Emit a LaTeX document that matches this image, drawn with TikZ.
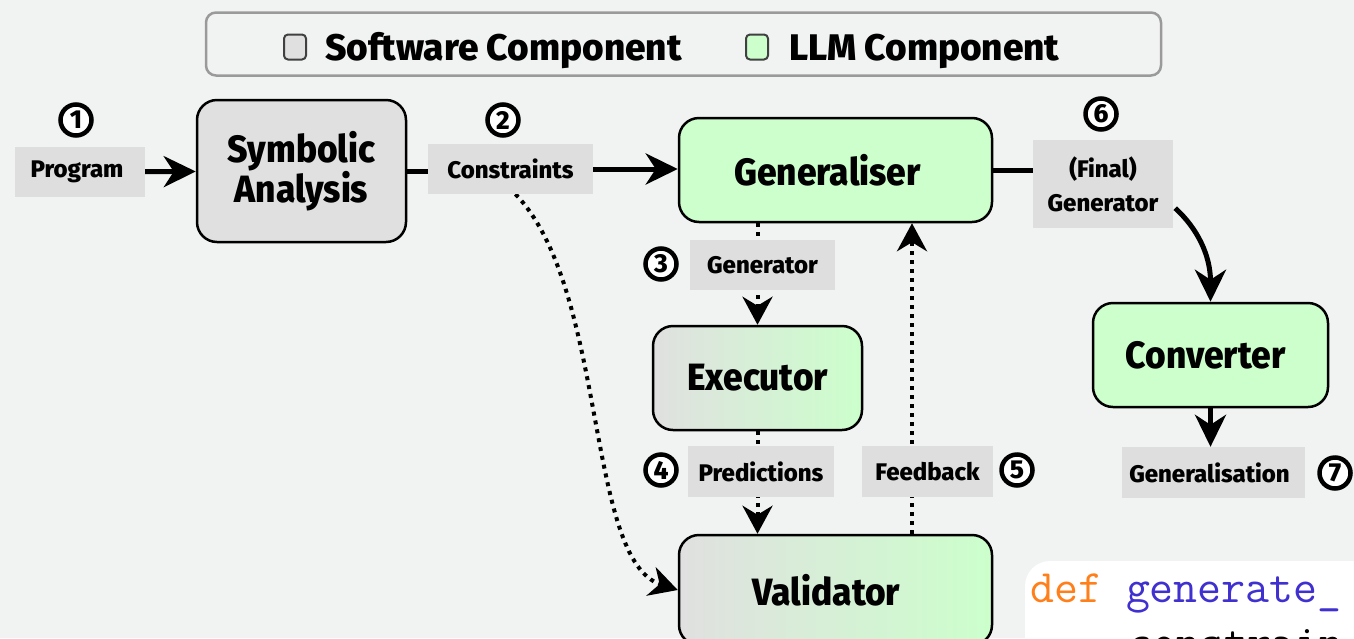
\documentclass[tikz,border=0pt]{standalone}
\usepackage{fontspec}
\setmainfont{Fira Sans}[BoldFont={Fira Sans ExtraBold}]
\newfontfamily\narrowfont{Fira Sans}[FakeStretch=0.93, BoldFont={Fira Sans ExtraBold}]
\usepackage{tikz}
\usetikzlibrary{arrows.meta, positioning, backgrounds, calc}

\definecolor{canvas}{HTML}{F1F3F2}
\definecolor{softgray}{HTML}{E0E0E0}
\definecolor{llmgreen}{HTML}{CCFFCC}
\definecolor{tagfill}{HTML}{DEDEDE}
\definecolor{legendline}{HTML}{9A9A9A}
\definecolor{kwdef}{HTML}{FF7F1A}
\definecolor{kwfun}{HTML}{3F30CF}

\begin{document}
\begin{tikzpicture}[
        x=1pt, y=-1pt,
        comp/.style={rectangle, rounded corners=20pt, draw=black, line width=2.5pt, align=center, inner sep=0pt, font=\narrowfont\fontsize{38}{40}\selectfont\bfseries},
        soft/.style={comp, fill=softgray},
        llm/.style={comp, fill=llmgreen},
        mixed/.style={comp, left color=softgray, right color=llmgreen},
        tag/.style={rectangle, fill=tagfill, align=center, inner sep=0pt, font=\fontsize{24}{34}\selectfont\bfseries},
        stepnum/.style={circle, draw=black, line width=4.5pt, fill=white, minimum size=31pt, inner sep=0pt, font=\fontsize{26}{26}\selectfont\bfseries},
        swatch/.style={rectangle, rounded corners=4pt, draw=black!75, line width=2pt, minimum width=22pt, minimum height=25pt},
        legendtext/.style={anchor=base west, inner sep=0pt, font=\fontsize{37}{40}\selectfont\bfseries},
        codeline/.style={anchor=base west, inner sep=0pt, font=\ttfamily\fontsize{46.5}{50}\selectfont},
        arrow/.style={-{Stealth[length=32pt, width=31pt, inset=10pt]}, line width=5pt},
        dotarrow/.style={-{Stealth[length=28pt, width=30pt, inset=9pt]}, line width=4pt, dash pattern=on 4pt off 5pt}
    ]
    \useasboundingbox (0,0) rectangle (1354,638);

    % Legend
    \node[draw=legendline, line width=2.5pt, rounded corners=10pt, fill=canvas, minimum width=955pt, minimum height=63pt] (legend) at (683.5,44) {};
    \node[swatch, fill=softgray] (swsoft) at (295,47) {};
    \node[legendtext] (txsoft) at (325,60) {Software Component};
    \node[swatch, fill=llmgreen] (swllm) at (757,47) {};
    \node[legendtext] (txllm) at (789,60) {LLM Component};

    % Components
    \node[soft, minimum width=209pt, minimum height=142pt] (symb) at (301.5,171) {Symbolic\\Analysis};
    \node[llm, minimum width=313pt, minimum height=104pt] (gen) at (835.5,170) {Generaliser\kern16pt};
    \node[mixed, minimum width=209pt, minimum height=104pt] (exec) at (757.5,378) {Executor};
    \node[mixed, minimum width=313pt, minimum height=110pt] (val) at (835.5,590) {Validator\kern18pt};
    \node[llm, minimum width=235pt, minimum height=104pt] (conv) at (1210.5,355) {Converter\kern10pt};

    % Data passed between components
    \node[tag, minimum width=130pt, minimum height=50pt] (prog) at (80,172) {Program\kern6pt};
    \node[tag, minimum width=165pt, minimum height=50pt] (cons) at (510.5,169) {Constraints};
    \node[tag, minimum width=145pt, minimum height=50pt] (gtag) at (762.5,265) {Generator};
    \node[tag, minimum width=146pt, minimum height=51pt] (pred) at (761,471.5) {Predictions};
    \node[tag, minimum width=131pt, minimum height=51pt] (fb) at (927.5,471.5) {Feedback};
    \node[tag, minimum width=140pt, minimum height=88pt] (fgen) at (1103,184) {(Final)\\Generator};
    \node[tag, minimum width=183pt, minimum height=51pt] (outp) at (1213.5,472.5) {Generalisation\kern8pt};

    % Step numbers
    \node[stepnum] (n1) at (76,120) {1};
    \node[stepnum] (n2) at (503,120) {2};
    \node[stepnum] (n3) at (661,264) {3};
    \node[stepnum] (n4) at (661,470) {4};
    \node[stepnum] (n5) at (1017,470) {5};
    \node[stepnum] (n6) at (1101,114) {6};
    \node[stepnum] (n7) at (1335,473) {7};

    \coordinate (fbline) at ($(val.north)+(76.5,0)$);
    \coordinate (fgenout) at ($(fgen.south east)+(2,-20)$);

    % Edges
    \begin{scope}[on background layer]
        \fill[canvas] (0,0) rectangle (1354,638);
        \draw[arrow] (prog) -- (symb);
        \draw[line width=5pt] (symb.east) -- (symb.east -| cons.west);
        \draw[arrow] (cons.east) -- (cons.east -| gen.west);
        \draw[line width=5pt] (gen.east) -- (gen.east -| fgen.west);
        \draw[arrow] (fgenout) .. controls (1197,228) and (1210.5,255) .. (conv.north);
        \draw[arrow] (conv.south) -- (conv.south |- outp.north);
        \draw[dotarrow] (exec.north |- gen.south) -- (exec.north);
        \draw[dotarrow] (exec.south) -- (exec.south |- val.north);
        \draw[dotarrow] (val.north -| fbline) -- (gen.south -| fbline);
        \draw[dotarrow] ($(cons.south)+(5,0)$) .. controls (608,290) and (585,560) .. (val.west);
    \end{scope}

    % Code excerpt
    \fill[white, rounded corners=25pt] (1025,561) rectangle (1420,720);
    \node[codeline] (code1) at (1030,602) {\textcolor{kwdef}{def} \textcolor{kwfun}{generate\_}};
    \node[codeline] (code2) at (1128,657) {constrain};

\end{tikzpicture}
\end{document}
